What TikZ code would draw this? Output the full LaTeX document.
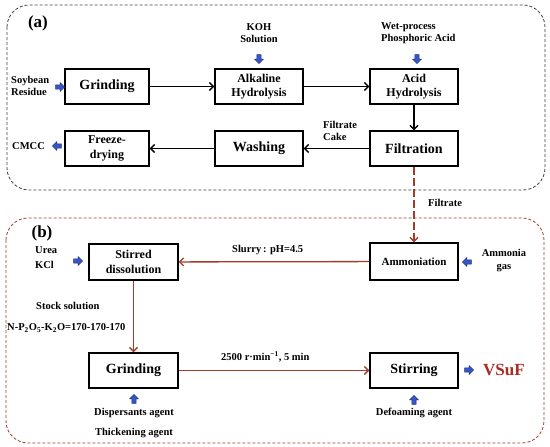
\documentclass[tikz,border=0pt]{standalone}
\usepackage{fontspec}
\setmainfont{Liberation Serif}
\usetikzlibrary{arrows.meta,shapes.arrows}
\definecolor{brn}{RGB}{160,60,40}
\definecolor{blu}{RGB}{55,85,200}
\definecolor{vsuf}{RGB}{170,45,35}
\begin{document}
\begin{tikzpicture}[x=1pt,y=-1pt,
 proc/.style={draw, line width=1.4pt, minimum width=88pt, minimum height=35pt, align=center, font=\bfseries\fontsize{12}{14.5}\selectfont, inner sep=1pt},
 big/.style={font=\bfseries\fontsize{14}{16}\selectfont},
 lbl/.style={font=\bfseries\fontsize{10.5}{12.5}\selectfont, align=left, inner sep=0pt},
 tag/.style={font=\bfseries\fontsize{17}{19}\selectfont, inner sep=0pt},
 flow/.style={line width=1.3pt, -{Straight Barb[length=4pt,width=8pt]}},
 bflow/.style={flow, draw=brn},
 barrow/.style={single arrow, draw=blu!60!black, fill=blu, line width=0.4pt, minimum height=9pt, minimum width=9pt, single arrow head extend=2.2pt, inner sep=1.8pt}
]
\useasboundingbox (0,0) rectangle (550,447);
% frames
\draw[dash pattern=on 3pt off 2pt, rounded corners=22pt, line width=0.8pt, black!75] (7,5) rectangle (545,190);
\draw[dash pattern=on 3pt off 2pt, rounded corners=22pt, line width=0.8pt, brn] (6,218) rectangle (544,443);
% (a) process
\node[proc, big, minimum width=84pt] (g1) at (107,86.5) {Grinding};
\node[proc] (ah) at (259,86.5) {Alkaline\\Hydrolysis};
\node[proc] (ach) at (414,86.5) {Acid\\Hydrolysis};
\node[proc, big] (fil) at (414,148.5) {Filtration};
\node[proc, big] (wash) at (259,148.5) {Washing};
\node[proc, minimum width=84pt] (fd) at (107,148.5) {Freeze-\\drying};
% (b) process
\node[proc, minimum width=89pt, minimum height=36pt] (sd) at (133.5,262) {Stirred\\dissolution};
\node[proc, font=\bfseries\fontsize{11}{13}\selectfont, minimum height=37pt] (am) at (414,261.5) {Ammoniation};
\node[proc, big, minimum width=89pt] (g2) at (133.5,370.5) {Grinding};
\node[proc, big] (st) at (414,370.5) {Stirring};
% connectors
\draw[flow] (g1) -- (ah);
\draw[flow] (ah) -- (ach);
\draw[flow] (ach) -- (fil);
\draw[flow] (fil) -- (wash);
\draw[flow] (wash) -- (fd);
\draw[brn, line width=1.3pt, dash pattern=on 8pt off 3pt, -{Straight Barb[length=4pt,width=8pt]}] (fil) -- (am);
\draw[bflow] (am) -- (sd);
\draw[bflow] (sd) -- (g2);
\draw[bflow] (g2) -- (st);
% labels (a)
\node[tag] (ta) at (38,23) {(a)};
\node[lbl, anchor=west] (soy) at (11,86) {Soybean\\Residue};
\node[barrow] (b1) at (59,87) {};
\node[lbl, align=center] (koh) at (259,33) {KOH\\Solution};
\node[barrow, shape border rotate=270] (b2) at (259,58) {};
\node[lbl, anchor=west] (wpa) at (381,33) {Wet-process\\Phosphoric Acid};
\node[barrow, shape border rotate=270] (b3) at (417,58) {};
\node[lbl, anchor=west] (fc) at (323,131) {Filtrate\\Cake};
\node[lbl, anchor=west] (cmcc) at (12,146) {CMCC};
\node[barrow, shape border rotate=180] (b4) at (58,146) {};
\node[lbl, anchor=west] (ftr) at (428,203) {Filtrate};
% labels (b)
\node[tag] (tb) at (42,233) {(b)};
\node[lbl, anchor=west, font=\bfseries\fontsize{10.5}{15}\selectfont] (uk) at (35,257.5) {Urea\\KCl};
\node[barrow] (b5) at (77,261) {};
\node[lbl, anchor=west] (slr) at (232,250) {Slurry\,:\,\,pH=4.5};
\node[lbl, anchor=west] (sto) at (36,306) {Stock solution};
\node[lbl, anchor=west] (npk) at (7,328) {N-P\textsubscript{2}O\textsubscript{5}-K\textsubscript{2}O=170-170-170};
\node[lbl, anchor=west] (rpm) at (221,357) {2500 r·min\textsuperscript{−1}, 5 min};
\node[barrow, shape border rotate=90] (b6) at (134,400) {};
\node[lbl] (disp) at (134,413) {Dispersants agent};
\node[lbl] (thk) at (134,433) {Thickening agent};
\node[barrow, shape border rotate=90] (b7) at (414,401) {};
\node[lbl] (def) at (414,413) {Defoaming agent};
\node[barrow] (b8) at (468,370) {};
\node[tag, anchor=west, text=vsuf] (vs) at (483,370) {VSuF};
\node[barrow, shape border rotate=180] (b9) at (468,262) {};
\node[lbl, align=center] (amg) at (504,260.5) {Ammonia\\gas};
\end{tikzpicture}
\end{document}
